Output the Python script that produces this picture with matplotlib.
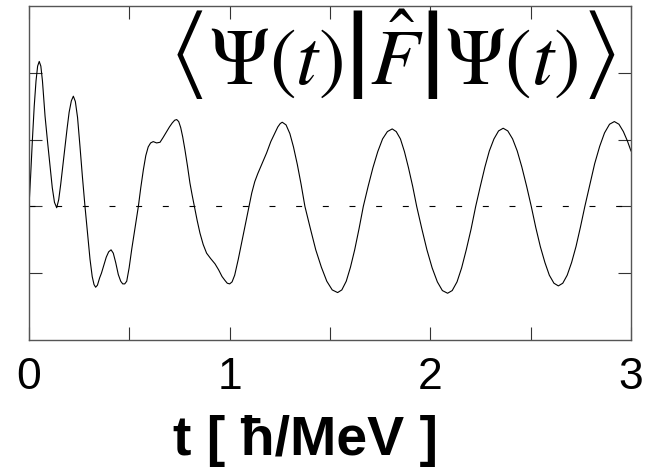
import numpy as np
import matplotlib
matplotlib.use("Agg")
import matplotlib.pyplot as plt

# --- values ---
t_vals = [0.000, 0.008, 0.017, 0.026, 0.035, 0.043, 0.051, 0.059, 0.067, 0.080,
          0.093, 0.105, 0.116, 0.127, 0.138, 0.148, 0.158, 0.169, 0.179, 0.190,
          0.200, 0.211, 0.221, 0.231, 0.242, 0.254, 0.266, 0.279, 0.292, 0.304,
          0.315, 0.324, 0.332, 0.341, 0.352, 0.361, 0.372, 0.385, 0.397, 0.409,
          0.420, 0.432, 0.445, 0.457, 0.467, 0.477, 0.487, 0.499, 0.512, 0.528,
          0.545, 0.557, 0.570, 0.582, 0.594, 0.606, 0.619, 0.636, 0.653, 0.668,
          0.684, 0.700, 0.714, 0.726, 0.736, 0.746, 0.756, 0.766, 0.777, 0.790,
          0.802, 0.813, 0.824, 0.838, 0.852, 0.868, 0.885, 0.905, 0.927, 0.945,
          0.962, 0.977, 0.988, 1.000, 1.012, 1.025, 1.043, 1.064, 1.085, 1.096,
          1.110, 1.125, 1.140, 1.160, 1.184, 1.205, 1.226, 1.240, 1.252, 1.262,
          1.281, 1.300, 1.318, 1.337, 1.356, 1.375, 1.402, 1.429, 1.457, 1.484,
          1.511, 1.538, 1.559, 1.581, 1.602, 1.623, 1.645, 1.666, 1.690, 1.714,
          1.738, 1.762, 1.786, 1.810, 1.830, 1.851, 1.871, 1.891, 1.912, 1.932,
          1.958, 1.983, 2.009, 2.035, 2.060, 2.086, 2.109, 2.133, 2.156, 2.179,
          2.203, 2.226, 2.249, 2.272, 2.294, 2.317, 2.340, 2.363, 2.386, 2.410,
          2.433, 2.456, 2.480, 2.503, 2.525, 2.548, 2.571, 2.593, 2.616, 2.638,
          2.660, 2.682, 2.704, 2.726, 2.748, 2.770, 2.795, 2.819, 2.844, 2.868,
          2.893, 2.917, 2.940, 2.962, 2.982, 3.000]
f_vals = [0.00, 0.45, 1.00, 1.50, 1.88, 2.10, 2.17, 2.10, 1.88, 1.35,
          0.95, 0.60, 0.28, 0.06, -0.02, 0.10, 0.33, 0.62, 0.88, 1.17,
          1.41, 1.58, 1.65, 1.57, 1.33, 0.90, 0.45, 0.00, -0.42, -0.79,
          -1.05, -1.17, -1.21, -1.18, -1.07, -1.00, -0.89, -0.76, -0.68, -0.65,
          -0.70, -0.84, -1.02, -1.12, -1.16, -1.16, -1.12, -0.92, -0.64, -0.33,
          0.00, 0.28, 0.55, 0.76, 0.89, 0.95, 0.97, 0.95, 0.96, 1.03,
          1.11, 1.19, 1.25, 1.29, 1.30, 1.27, 1.18, 1.04, 0.85, 0.60,
          0.35, 0.17, 0.00, -0.21, -0.40, -0.57, -0.70, -0.78, -0.86, -0.95,
          -1.05, -1.11, -1.15, -1.16, -1.13, -1.03, -0.79, -0.48, -0.17, 0.00,
          0.20, 0.37, 0.49, 0.63, 0.80, 0.97, 1.10, 1.19, 1.24, 1.26,
          1.22, 1.09, 0.89, 0.63, 0.33, 0.00, -0.33, -0.65, -0.91, -1.12,
          -1.25, -1.29, -1.25, -1.12, -0.91, -0.65, -0.33, 0.00, 0.30, 0.58,
          0.82, 1.01, 1.12, 1.16, 1.12, 1.01, 0.82, 0.58, 0.30, 0.00,
          -0.34, -0.65, -0.92, -1.13, -1.26, -1.30, -1.26, -1.13, -0.92, -0.65,
          -0.34, 0.00, 0.30, 0.59, 0.83, 1.01, 1.13, 1.17, 1.13, 1.01,
          0.83, 0.59, 0.30, 0.00, -0.31, -0.60, -0.84, -1.03, -1.15, -1.19,
          -1.15, -1.03, -0.84, -0.60, -0.31, 0.00, 0.33, 0.64, 0.90, 1.10,
          1.23, 1.27, 1.23, 1.12, 0.98, 0.83]

x_ticks = [0, 0.5, 1, 1.5, 2, 2.5, 3]
x_tick_labels = ['0', '', '1', '', '2', '', '3']
y_ticks = [-1, 0, 1, 2]

plt.rcParams['mathtext.fontset'] = 'stix'
plt.rcParams['lines.scale_dashes'] = False
plt.rcParams['font.family'] = ['Liberation Sans', 'DejaVu Sans']

fig = plt.figure(figsize=(6.56, 4.67), dpi=100)
ax = fig.add_axes([29/656, 1 - 340/467, 602/656, 334/467])

ax.plot(t_vals, f_vals, color='black', lw=0.8)
ax.axhline(0, color='black', lw=0.8, dashes=(4.3, 14.9))

ax.set_xlim(0, 3)
ax.set_ylim(-2, 3)
ax.set_xticks(x_ticks)
ax.set_xticklabels(x_tick_labels, fontsize=32)
ax.set_yticks(y_ticks)
ax.set_yticklabels([])
ax.tick_params(direction='in', length=9.5, width=0.8, top=True, right=True,
               color='#333333', pad=12)
for s in ax.spines.values():
    s.set_color('#555555')
    s.set_linewidth(1.0)

ax.set_xlabel('t [ ħ/MeV ]', fontsize=40, fontweight='bold')
ax.xaxis.set_label_coords(0.46, -0.225)

title = ax.text(1.81, 2.27,
                r'$\left\langle\Psi(t)\middle|\hat{F}\middle|\Psi(t)\right\rangle$',
                fontsize=57.5, ha='center', va='center')
try:
    fig.canvas.draw()
except ValueError:
    title.set_text(r'$\left\langle\Psi(t)\left|\hat{F}\right|\Psi(t)\right\rangle$')

fig.savefig('out.png', dpi=100)
